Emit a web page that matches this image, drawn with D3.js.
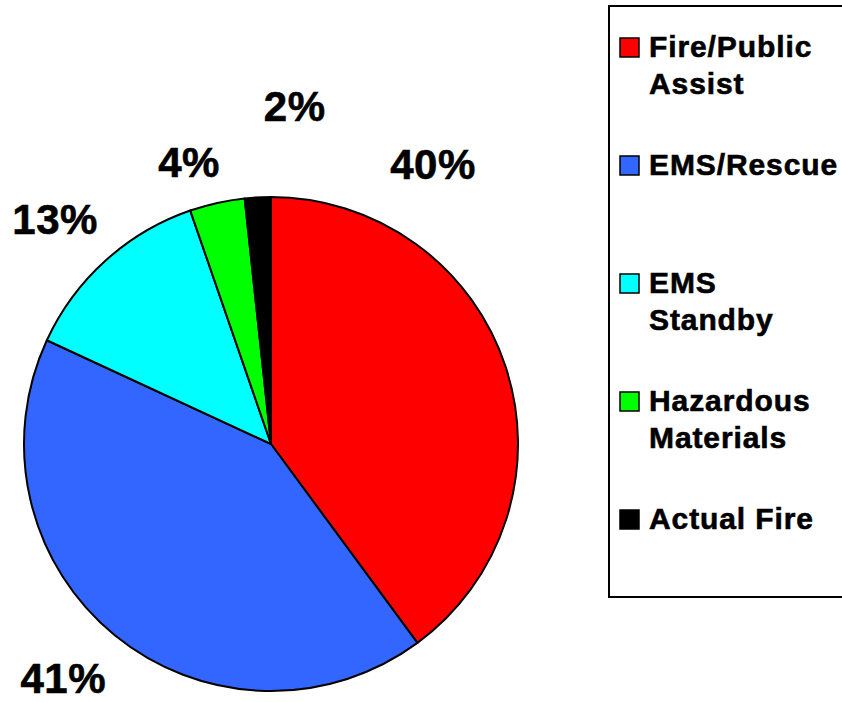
<!DOCTYPE html>
<style>
  body { margin: 0; background: #fff; }
  text { font-family: "Liberation Sans", Arial, sans-serif; font-weight: bold; fill: #000; stroke: #000; stroke-width: 0.6px; }
</style>
<svg width="842" height="702"></svg>
<script src="https://d3js.org/d3.v7.min.js"></script>
<script>

// data (share of calls, %)
var categories = ["Fire/Public Assist", "EMS/Rescue", "EMS Standby", "Hazardous Materials", "Actual Fire"];
var values = [39.9, 42.0, 12.8, 3.6, 1.7];
var pctLabels = ["40%", "41%", "13%", "4%", "2%"];
var legendLines = [["Fire/Public", "Assist"], ["EMS/Rescue"], ["EMS", "Standby"], ["Hazardous", "Materials"], ["Actual Fire"]];
var colors = ["#ff0000", "#3366ff", "#00ffff", "#00ff00", "#000000"];

// where the percentage labels sit: [angle in degrees from 12 o'clock, distance from centre]
var labelPlace = [[30, 324], [221.6, 313], [316.2, 312], [343.8, 294], [4, 339]];

var svg = d3.select("svg"),
    cx = 271, cy = 444, radius = 247;

var pie = d3.pie().sort(null).value(function(d) { return d; });
var arc = d3.arc().innerRadius(0).outerRadius(radius);

var g = svg.append("g").attr("transform", "translate(" + cx + "," + cy + ")");

g.selectAll("path")
    .data(pie(values))
  .enter().append("path")
    .attr("d", arc)
    .attr("fill", function(d, i) { return colors[i]; })
    .attr("stroke", "#000")
    .attr("stroke-width", 2)
    .attr("stroke-linejoin", "round");

g.selectAll("text.pct")
    .data(pctLabels)
  .enter().append("text")
    .attr("class", "pct")
    .attr("x", function(d, i) { return labelPlace[i][1] * Math.sin(labelPlace[i][0] * Math.PI / 180); })
    .attr("y", function(d, i) { return -labelPlace[i][1] * Math.cos(labelPlace[i][0] * Math.PI / 180); })
    .attr("dy", "0.36em")
    .attr("text-anchor", "middle")
    .style("font-size", "42px")
    .style("letter-spacing", "0.5px")
    .text(function(d) { return d; });

// legend
svg.append("rect")
    .attr("x", 609)
    .attr("y", 6)
    .attr("width", 260)
    .attr("height", 591)
    .attr("fill", "#fff")
    .attr("stroke", "#000")
    .attr("stroke-width", 2);

var item = svg.selectAll("g.item")
    .data(categories)
  .enter().append("g")
    .attr("class", "item")
    .attr("transform", function(d, i) { return "translate(620," + (57 + i * 118) + ")"; });

item.append("rect")
    .attr("x", 0)
    .attr("y", -19)
    .attr("width", 19)
    .attr("height", 19)
    .attr("fill", function(d, i) { return colors[i]; })
    .attr("stroke", "#000")
    .attr("stroke-width", 1.5);

item.append("text")
    .attr("x", 29)
    .style("font-size", "30px")
    .style("letter-spacing", "0.9px")
    .each(function(d, i) {
      d3.select(this).selectAll("tspan")
          .data(legendLines[i])
        .enter().append("tspan")
          .attr("x", 29)
          .attr("y", function(t, j) { return j * 37; })
          .text(function(t) { return t; });
    });

</script>
